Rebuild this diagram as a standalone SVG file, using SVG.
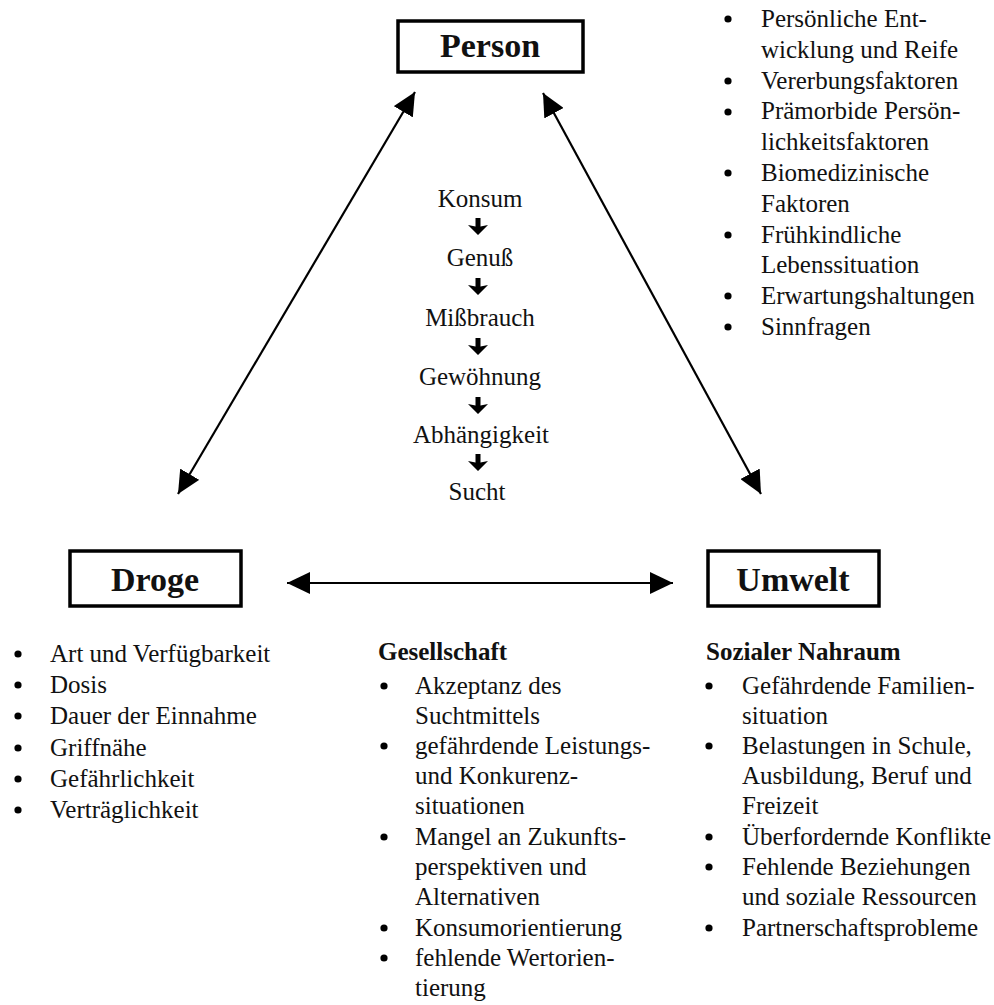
<svg xmlns="http://www.w3.org/2000/svg" xmlns:xlink="http://www.w3.org/1999/xlink" width="994" height="1005" viewBox="0 0 994 1005">
<style>
text{font-family:"Liberation Serif","Times New Roman",serif;fill:#111;}
.t{font-size:25px;}
.h{font-size:34px;font-weight:bold;text-anchor:middle;}
.b{font-size:25px;font-weight:bold;}
.c{font-size:25px;text-anchor:middle;}
.box{fill:#fff;stroke:#000;stroke-width:3.5;}
.con{stroke:#000;stroke-width:2.2;fill:none;marker-start:url(#ah);marker-end:url(#ah);}
.dot{fill:#000;}
</style>
<defs>
<marker id="ah" markerUnits="userSpaceOnUse" markerWidth="24" markerHeight="22" refX="23" refY="11" orient="auto-start-reverse" viewBox="0 0 24 22">
<path d="M0,0 L23,11 L0,22 z" fill="#000"/>
</marker>
<g id="down">
<path d="M0,-9 V1" stroke="#000" stroke-width="5"/>
<path d="M-10,-2 L0,8 L10,-2 L0,0 z" fill="#000"/>
</g>
</defs>
<rect width="994" height="1005" fill="#fff"/>

<g id="connectors">
<line class="con" x1="178" y1="494" x2="415" y2="92"/>
<line class="con" x1="543" y1="93" x2="761" y2="494"/>
<line class="con" x1="287" y1="583" x2="673" y2="583"/>
</g>

<g id="node-person">
<rect class="box" x="398" y="21" width="185" height="51"/>
<text class="h" x="490" y="57">Person</text>
</g>

<g id="node-droge">
<rect class="box" x="70" y="551" width="171" height="55"/>
<text class="h" x="155" y="591">Droge</text>
</g>

<g id="node-umwelt">
<rect class="box" x="708" y="551" width="171" height="55"/>
<text class="h" x="793" y="591">Umwelt</text>
</g>

<g id="chain">
<text class="c" x="480" y="207">Konsum</text>
<use xlink:href="#down" x="478" y="227"/>
<text class="c" x="480" y="266">Genuß</text>
<use xlink:href="#down" x="478" y="287"/>
<text class="c" x="480" y="326">Mißbrauch</text>
<use xlink:href="#down" x="478" y="347"/>
<text class="c" x="480" y="385">Gewöhnung</text>
<use xlink:href="#down" x="478" y="406"/>
<text class="c" x="481" y="443">Abhängigkeit</text>
<use xlink:href="#down" x="478" y="463"/>
<text class="c" x="477" y="500">Sucht</text>
</g>

<g id="list-person">
<circle class="dot" cx="728" cy="19" r="3.6"/>
<text class="t" x="761" y="27">Persönliche Ent-</text>
<text class="t" x="761" y="58">wicklung und Reife</text>
<circle class="dot" cx="728" cy="81" r="3.6"/>
<text class="t" x="761" y="89">Vererbungsfaktoren</text>
<circle class="dot" cx="728" cy="112" r="3.6"/>
<text class="t" x="761" y="119">Prämorbide Persön-</text>
<text class="t" x="761" y="150">lichkeitsfaktoren</text>
<circle class="dot" cx="728" cy="173" r="3.6"/>
<text class="t" x="761" y="181">Biomedizinische</text>
<text class="t" x="761" y="212">Faktoren</text>
<circle class="dot" cx="728" cy="235" r="3.6"/>
<text class="t" x="761" y="243">Frühkindliche</text>
<text class="t" x="761" y="273">Lebenssituation</text>
<circle class="dot" cx="728" cy="296" r="3.6"/>
<text class="t" x="761" y="304">Erwartungshaltungen</text>
<circle class="dot" cx="728" cy="327" r="3.6"/>
<text class="t" x="761" y="335">Sinnfragen</text>
</g>

<g id="list-droge">
<circle class="dot" cx="18" cy="654" r="3.6"/>
<text class="t" x="50" y="662">Art und Verfügbarkeit</text>
<circle class="dot" cx="18" cy="685" r="3.6"/>
<text class="t" x="50" y="693">Dosis</text>
<circle class="dot" cx="18" cy="716" r="3.6"/>
<text class="t" x="50" y="724">Dauer der Einnahme</text>
<circle class="dot" cx="18" cy="748" r="3.6"/>
<text class="t" x="50" y="756">Griffnähe</text>
<circle class="dot" cx="18" cy="779" r="3.6"/>
<text class="t" x="50" y="787">Gefährlichkeit</text>
<circle class="dot" cx="18" cy="810" r="3.6"/>
<text class="t" x="50" y="818">Verträglichkeit</text>
</g>

<g id="list-gesellschaft">
<text class="b" x="378" y="660">Gesellschaft</text>
<circle class="dot" cx="384" cy="686" r="3.6"/>
<text class="t" x="415" y="694">Akzeptanz des</text>
<text class="t" x="415" y="724">Suchtmittels</text>
<circle class="dot" cx="384" cy="746" r="3.6"/>
<text class="t" x="415" y="754">gefährdende Leistungs-</text>
<text class="t" x="415" y="784">und Konkurenz-</text>
<text class="t" x="415" y="814">situationen</text>
<circle class="dot" cx="384" cy="837" r="3.6"/>
<text class="t" x="415" y="845">Mangel an Zukunfts-</text>
<text class="t" x="415" y="875">perspektiven und</text>
<text class="t" x="415" y="905">Alternativen</text>
<circle class="dot" cx="384" cy="928" r="3.6"/>
<text class="t" x="415" y="936">Konsumorientierung</text>
<circle class="dot" cx="384" cy="958" r="3.6"/>
<text class="t" x="415" y="966">fehlende Wertorien-</text>
<text class="t" x="415" y="996">tierung</text>
</g>

<g id="list-umwelt">
<text class="b" x="706" y="660">Sozialer Nahraum</text>
<circle class="dot" cx="709" cy="686" r="3.6"/>
<text class="t" x="742" y="694">Gefährdende Familien-</text>
<text class="t" x="742" y="724">situation</text>
<circle class="dot" cx="709" cy="746" r="3.6"/>
<text class="t" x="742" y="754">Belastungen in Schule,</text>
<text class="t" x="742" y="784">Ausbildung, Beruf und</text>
<text class="t" x="742" y="814">Freizeit</text>
<circle class="dot" cx="709" cy="837" r="3.6"/>
<text class="t" x="742" y="845">Überfordernde Konflikte</text>
<circle class="dot" cx="709" cy="867" r="3.6"/>
<text class="t" x="742" y="875">Fehlende Beziehungen</text>
<text class="t" x="742" y="905">und soziale Ressourcen</text>
<circle class="dot" cx="709" cy="928" r="3.6"/>
<text class="t" x="742" y="936">Partnerschaftsprobleme</text>
</g>
</svg>
